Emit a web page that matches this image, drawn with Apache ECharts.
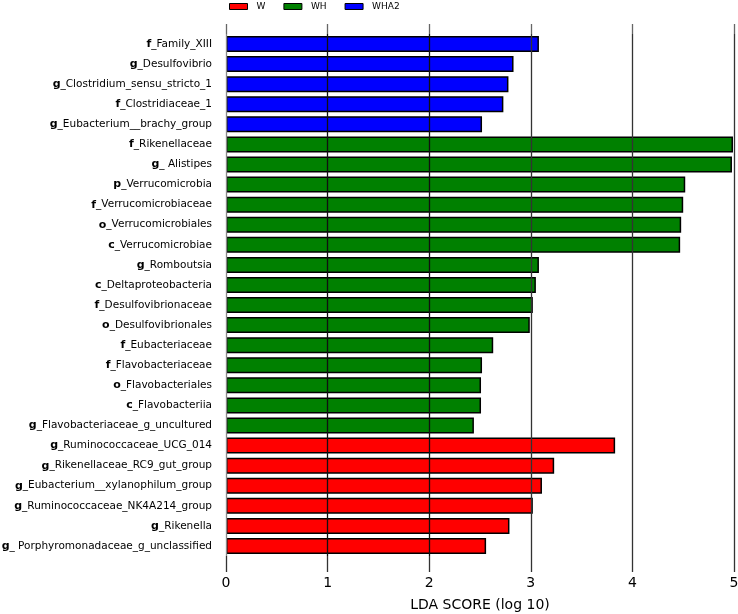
<!DOCTYPE html>
<html>
<head>
<meta charset="utf-8">
<script src="https://cdn.jsdelivr.net/npm/echarts@6/dist/echarts.min.js"></script>
<style>html,body{margin:0;padding:0;background:#fff}#c{width:738px;height:614px}</style>
</head>
<body>
<div id="c"></div>
<script>
const categories = [
  'f_Family_XIII','g_Desulfovibrio','g_Clostridium_sensu_stricto_1','f_Clostridiaceae_1','g_Eubacterium__brachy_group',
  'f_Rikenellaceae','g_ Alistipes','p_Verrucomicrobia','f_Verrucomicrobiaceae','o_Verrucomicrobiales','c_Verrucomicrobiae',
  'g_Romboutsia','c_Deltaproteobacteria','f_Desulfovibrionaceae','o_Desulfovibrionales','f_Eubacteriaceae',
  'f_Flavobacteriaceae','o_Flavobacteriales','c_Flavobacteriia','g_Flavobacteriaceae_g_uncultured',
  'g_Ruminococcaceae_UCG_014','g_Rikenellaceae_RC9_gut_group','g_Eubacterium__xylanophilum_group',
  'g_Ruminococcaceae_NK4A214_group','g_Rikenella','g_ Porphyromonadaceae_g_unclassified'
];
const values = [
  3.08, 2.83, 2.78, 2.73, 2.52,
  4.99, 4.98, 4.52, 4.50, 4.48, 4.47,
  3.08, 3.05, 3.02, 2.99, 2.63,
  2.52, 2.51, 2.51, 2.44,
  3.83, 3.23, 3.11, 3.02, 2.79, 2.56
];
const groups = [
  'WHA2','WHA2','WHA2','WHA2','WHA2',
  'WH','WH','WH','WH','WH','WH','WH','WH','WH','WH','WH','WH','WH','WH','WH',
  'W','W','W','W','W','W'
];
const groupNames = ['W','WH','WHA2'];
const groupColors = {W:'#ff0000', WH:'#008000', WHA2:'#0000ff'};
const xTicks = [0,1,2,3,4,5];

const series = groupNames.map(g => ({
  name: g,
  type: 'bar',
  stack: 'all',
  barWidth: 16,
  itemStyle: {color: groupColors[g], borderColor: '#000', borderWidth: 1.5},
  data: values.map((v,i) => groups[i] === g ? v : '-'),
  z: 2
}));

const chart = echarts.init(document.getElementById('c'));
const lineColors = ['#888','#111','#111','#333','#333','#333'];
chart.setOption({
  animation: false,
  textStyle: {fontFamily: 'DejaVu Sans'},
  legend: {
    data: groupNames,
    left: 229, top: 2, padding: 0,
    itemWidth: 18, itemHeight: 6, itemGap: 18,
    textStyle: {fontSize: 9, color: '#000', fontFamily: 'DejaVu Sans', padding: [0,0,0,4]},
    icon: 'rect',
    itemStyle: {borderColor: '#000', borderWidth: 1}
  },
  grid: {left: 226, right: 4, top: 34, bottom: 58, containLabel: false, outerBoundsMode: 'none'},
  xAxis: [{
    type: 'value', min: 0, max: 5, interval: 1, z: 5,
    name: 'LDA SCORE (log 10)', nameLocation: 'middle', nameGap: 42,
    nameTextStyle: {fontSize: 14, color: '#000', fontFamily: 'DejaVu Sans'},
    axisLine: {show: false},
    axisTick: {show: true, length: 16, lineStyle: {color: '#333', width: 1.3}},
    axisLabel: {fontSize: 14, color: '#000', margin: 20, fontFamily: 'DejaVu Sans',
      formatter: v => xTicks.includes(v) ? String(v) : ''},
    splitLine: {show: true, lineStyle: {color: lineColors, width: 1.3}}
  }, {
    type: 'value', min: 0, max: 5, interval: 1, position: 'top', z: 5,
    axisLine: {show: false},
    axisTick: {show: true, length: 10, lineStyle: {color: '#666', width: 1.3}},
    axisLabel: {show: false},
    splitLine: {show: false}
  }],
  yAxis: {
    type: 'category', data: categories, inverse: true,
    axisLine: {show: false}, axisTick: {show: false},
    axisLabel: {
      margin: 14, color: '#000', fontSize: 10.5, fontFamily: 'DejaVu Sans',
      formatter: s => {
        const p = s.indexOf('_');
        return '{b|' + s.slice(0,p) + '}{n|' + s.slice(p) + '}';
      },
      rich: {
        b: {fontWeight: 'bold', fontSize: 11, color: '#000', fontFamily: 'DejaVu Sans'},
        n: {fontSize: 10.5, color: '#000', fontFamily: 'DejaVu Sans'}
      }
    }
  },
  series: series
});
</script>
</body>
</html>
